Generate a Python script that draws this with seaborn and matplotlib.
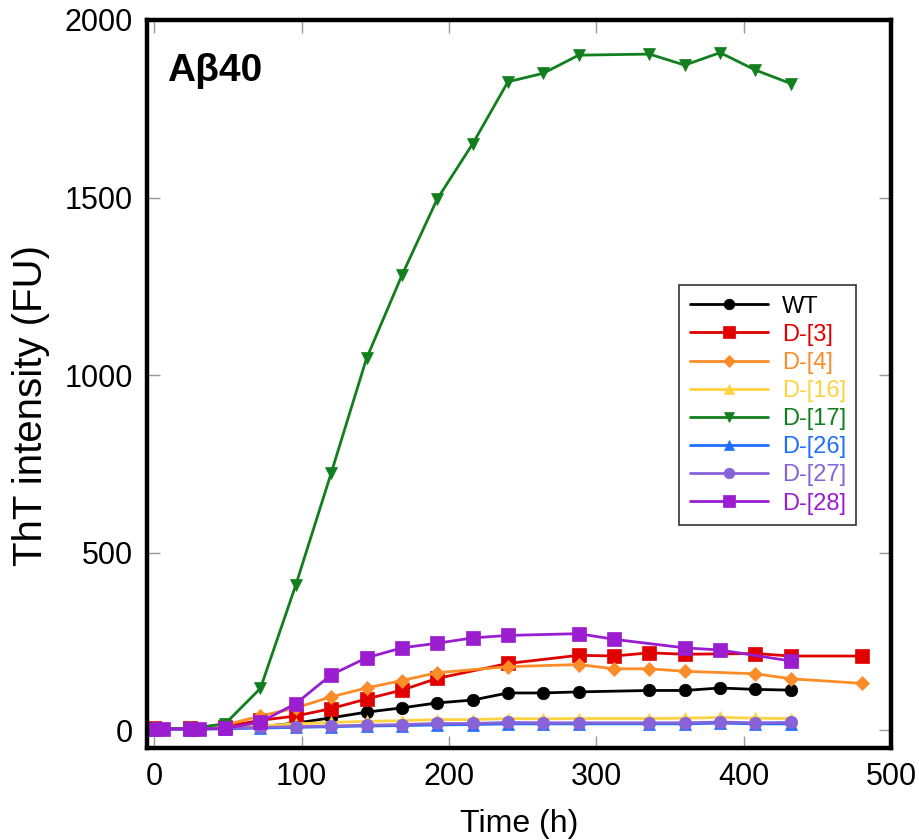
import numpy as np
import pandas as pd
import matplotlib
matplotlib.use("Agg")
import matplotlib.pyplot as plt
from matplotlib import font_manager
import seaborn as sns

# ---- data ----
times = [0, 6, 24, 30, 48, 72, 96, 120, 144, 168, 192, 216, 240, 264, 288, 312, 336, 360, 384, 408, 432, 480]
N = None
wt     = [5, N, 5, N, 7, 10, 20, 35, 51, 63, 77, 85, 105, 105, 108, N, 112, 112, 119, 115, 113, N]
d3     = [5, N, 5, N, 10, 28, 40, 61, 88, 113, 146, N, 188, N, 211, 209, 218, 214, N, 216, 209, 209]
d4     = [5, N, 5, N, 15, 40, 63, 94, 119, 140, 162, N, 179, N, 185, 173, 173, 166, N, 159, 145, 132]
d16    = [5, N, 5, N, 8, 12, 18, 22, 25, 27, 30, 30, 33, 32, 33, N, 33, 34, 36, 34, 33, N]
d17    = [5, N, 5, N, 18, 118, 409, 724, 1047, 1281, 1496, 1651, 1826, 1850, 1901, N, 1904, 1873, 1908, 1859, 1821, N]
d26    = [2, N, 2, N, 4, 6, 8, 10, 12, 13, 15, 16, 18, 18, 18, N, 18, 18, 20, 18, 18, N]
d27    = [3, N, 3, N, 6, 8, 10, 12, 14, 16, 19, 19, 22, 21, 21, N, 21, 21, 23, 21, 22, N]
d28    = [4, 4, 4, 4, 5, 23, 75, 156, 204, 232, 245, 260, 267, N, 272, 256, N, 232, 226, N, 195, N]

labels = ["WT", "D-[3]", "D-[4]", "D-[16]", "D-[17]", "D-[26]", "D-[27]", "D-[28]"]
series = [wt, d3, d4, d16, d17, d26, d27, d28]
colors = ["#000000", "#e00000", "#fb8c28", "#ffd23f", "#117f1d", "#1f6fff", "#8863d8", "#9b1dd0"]
markers = ["o", "s", "D", "^", "v", "^", "o", "s"]
msizes = [9, 9.5, 7, 8.5, 9, 8.5, 9, 9.5]
xticks = [0, 100, 200, 300, 400, 500]
yticks = [0, 500, 1000, 1500, 2000]

sns.set_theme(style="white")
plt.rcParams["font.family"] = ["Liberation Sans", "DejaVu Sans"]
plt.rcParams["text.color"] = "black"
plt.rcParams["axes.labelcolor"] = "black"

installed = {f.name for f in font_manager.fontManager.ttflist}
if "Liberation Sans Narrow" in installed:
    narrow = ["Liberation Sans Narrow", "Liberation Sans"]
else:
    narrow = ["Liberation Sans", "DejaVu Sans"]

fig = plt.figure(figsize=(9.2, 8.4), dpi=100)
ax = fig.add_axes([147/920, 1 - 748/840, (891-147)/920, (748-20)/840])

rows = []
for lab, vals in zip(labels, series):
    for t, v in zip(times, vals):
        rows.append({"Time": t, "ThT": (np.nan if v is None else v), "Peptide": lab})
df = pd.DataFrame(rows)

for lab, col, mk, ms in zip(labels, colors, markers, msizes):
    sub = df[df["Peptide"] == lab].dropna()
    sns.lineplot(data=sub, x="Time", y="ThT", ax=ax, color=col, marker=mk,
                 markersize=ms, markeredgecolor=col, markeredgewidth=0.5,
                 linewidth=2.0, label=lab, estimator=None, sort=True)

ax.set_xlim(-5, 500)
ax.set_ylim(-50, 2000)
ax.set_xticks(xticks)
ax.set_yticks(yticks)
ax.set_xticklabels([str(v) for v in xticks], family=narrow, fontsize=22)
ax.set_yticklabels([str(v) for v in yticks], family=narrow, fontsize=22)
ax.tick_params(direction="in", length=9, width=1, color="#999999", labelcolor="black",
               top=True, right=True, bottom=True, left=True, pad=10)
for s in ax.spines.values():
    s.set_linewidth(3.2)
    s.set_color("black")

ax.set_xlabel("Time (h)", family=narrow, fontsize=23)
ax.xaxis.set_label_coords(0.5, -0.084)
ax.set_ylabel("ThT intensity (FU)", fontsize=29)
ax.yaxis.set_label_coords(-0.130, 0.47)
ax.text(0.027, 0.955, "A\u03b240", transform=ax.transAxes, fontsize=28,
        fontweight="bold", va="top", ha="left", color="black")

leg = ax.legend(loc="upper left", bbox_to_anchor=(0.715, 0.636), frameon=True,
                fancybox=False, edgecolor="black", fontsize=17, handlelength=3.3,
                labelspacing=0.26, markerscale=0.85, borderpad=0.45, handletextpad=0.6,
                borderaxespad=0.0)
leg.get_frame().set_linewidth(1.2)
for txt, col in zip(leg.get_texts(), colors):
    txt.set_color(col)

fig.savefig("out.png", dpi=100)
